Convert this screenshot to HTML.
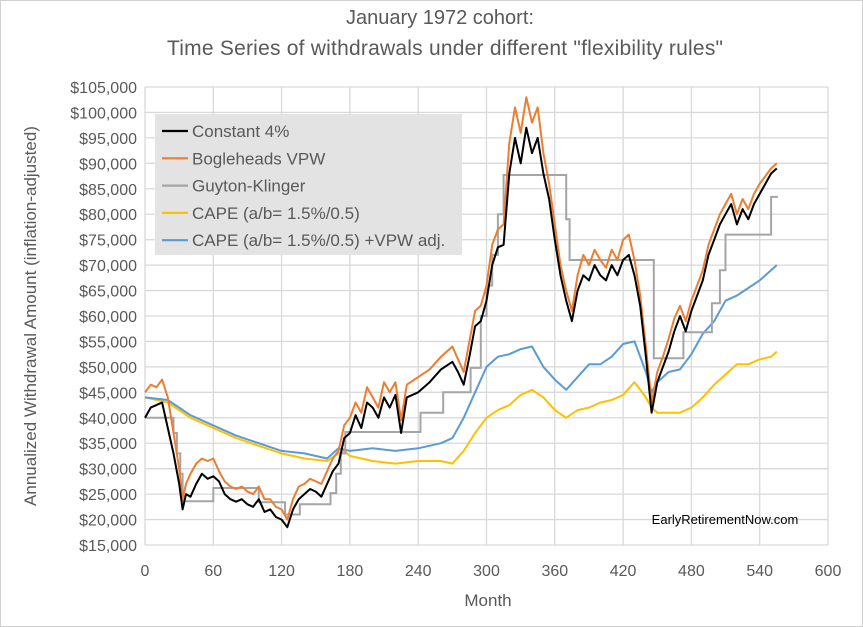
<!DOCTYPE html>
<html><head><meta charset="utf-8"><style>
body{margin:0;background:#fff;}
svg{display:block;font-family:"Liberation Sans",Arial,sans-serif;}
</style></head><body>
<svg id="chart" width="863" height="627" viewBox="0 0 863 627">
<rect x="0.5" y="0.5" width="862" height="626" fill="#fff" stroke="#d0d0d0"/>
<text x="440" y="24" text-anchor="middle" font-size="20" fill="#595959">January 1972 cohort:</text>
<text x="445" y="55" text-anchor="middle" font-size="21" fill="#595959" textLength="556">Time Series of withdrawals under different "flexibility rules"</text>
<g id="grid"></g>
<g id="yticks"></g>
<g id="xticks"></g>
<text transform="translate(36,316) rotate(-90)" text-anchor="middle" font-size="17" fill="#595959">Annualized Withdrawal Amount (inflation-adjusted)</text>
<text x="488" y="606" text-anchor="middle" font-size="17" fill="#595959">Month</text>
<g id="series"></g>
<g>
<rect x="155" y="114" width="307" height="141" fill="#e3e3e3"/>
<g id="legend-items"></g>
</g>
<text x="725" y="524" text-anchor="middle" font-size="13" fill="#000">EarlyRetirementNow.com</text>
</svg>
<script>
const xTicks=[0,60,120,180,240,300,360,420,480,540,600];
const yTicks=[15000,20000,25000,30000,35000,40000,45000,50000,55000,60000,65000,70000,75000,80000,85000,90000,95000,100000,105000];
const months=[0,5,10,15,20,25,30,33,36,40,45,50,55,60,65,70,75,80,85,90,95,100,105,110,115,120,125,130,135,140,145,150,155,160,165,170,175,180,185,190,195,200,205,210,215,220,225,230,240,250,260,270,275,280,285,290,295,300,305,310,315,320,325,330,335,340,345,350,355,360,365,370,375,380,385,390,395,400,405,410,415,420,425,430,435,440,445,450,455,460,465,470,475,480,485,490,495,500,505,510,515,520,525,530,535,540,545,550,555];
const constant4=[40000,42000,42500,43000,38000,33000,27000,22000,25000,24500,27000,29000,28000,28500,27500,25000,24000,23500,24000,23000,22500,24000,21500,22000,20500,20000,18500,22000,24000,25000,26000,25500,24500,27000,29500,31000,36000,37000,40500,38000,43000,42000,40000,44000,42000,44500,37000,44000,45000,47000,49500,51000,49000,46500,52000,58000,59000,63000,70000,73500,74000,88000,95000,90000,97000,92000,95000,88000,83000,75000,68000,63000,59000,65000,68000,67000,70000,68000,67000,70000,68000,71000,72000,68000,62000,52000,41000,47000,50000,53000,57000,60000,57000,61000,64000,67000,72000,75000,78000,80000,82000,78000,81000,79000,82000,84000,86000,88000,89000];
const vpw=[45000,46500,46000,47500,44000,37000,30000,24000,27000,29000,31000,32000,31500,32000,29500,27500,26500,26000,26500,25500,25000,26500,24000,24000,22500,22000,20000,24000,26500,27000,28000,27500,27000,29500,32000,33500,38500,40000,43000,41000,46000,44000,42000,47000,45000,47000,39500,46500,48000,49500,52000,54000,51500,49000,55000,61000,62000,66000,74000,77000,78000,94000,101000,96000,103000,98000,101000,92000,86000,78000,70000,65000,61000,68000,72000,70000,73000,71000,69500,73000,71000,75000,76000,71000,64000,54000,43000,49000,52000,55500,59500,62000,59000,63000,66000,69000,74000,77000,80000,82000,84000,80000,83000,81000,84000,86000,87500,89000,90000];
const gkMonths=[0,25,28,31,33,60,100,123,136,163,168,172,176,242,262,286,295,300,305,310,315,370,373,447,473,498,505,510,550,556];
const gkValues=[40000,37000,33000,29000,23600,26200,23400,21000,23000,25200,29000,33000,37200,41000,45000,49800,60000,66000,72000,80000,87700,79000,71000,51700,56800,62500,69000,76000,83400,83400];
const capeMonths=[0,20,40,60,80,100,120,140,160,170,175,180,200,220,240,260,270,280,290,300,310,320,330,340,350,360,370,380,390,400,410,420,430,440,445,450,460,470,480,490,500,510,520,530,540,550,555];
const cape=[44000,43000,40000,38000,36000,34500,33000,32000,31500,33000,33500,32500,31500,31000,31500,31500,31000,33500,37000,40000,41500,42500,44500,45500,44000,41500,40000,41500,42000,43000,43500,44500,47000,44000,42000,41000,41000,41000,42000,44000,46500,48500,50500,50500,51500,52000,53000];
const capeVpwMonths=[0,20,40,60,80,100,120,140,160,170,180,200,220,240,260,270,280,290,300,310,320,330,340,350,360,370,380,390,400,410,420,430,440,445,450,460,470,480,490,500,510,520,530,540,550,555];
const capeVpw=[44000,43500,40500,38500,36500,35000,33500,33000,32000,34000,33500,34000,33500,34000,35000,36000,40000,45000,50000,52000,52500,53500,54000,50000,47500,45500,48000,50500,50500,52000,54500,55000,49000,45000,47000,49000,49500,52500,56500,59000,63000,64000,65500,67000,69000,70000];

const X0=145,X1=828,Y0=545,Y1=87;
const xs=m=>X0+(m-0)/600*(X1-X0);
const ys=v=>Y0-(v-15000)/(105000-15000)*(Y0-Y1);
const NS="http://www.w3.org/2000/svg";
function mk(tag,attrs,parent){const e=document.createElementNS(NS,tag);for(const k in attrs)e.setAttribute(k,attrs[k]);parent.appendChild(e);return e;}
const grid=document.getElementById('grid'),yt=document.getElementById('yticks'),xt=document.getElementById('xticks'),ser=document.getElementById('series');
yTicks.forEach(v=>{
  const l=mk('line',{x1:X0,x2:X1,y1:ys(v),y2:ys(v),stroke:'#d9d9d9','stroke-width':1.3},grid);
  
  
  const t=mk('text',{x:137,y:ys(v)+6,'text-anchor':'end','font-size':16,fill:'#595959'},yt);
  t.textContent='$'+v.toLocaleString('en-US');
  
  
});
xTicks.forEach(m=>{
  const l=mk('line',{x1:xs(m),x2:xs(m),y1:Y1,y2:Y0,stroke:'#d9d9d9','stroke-width':1.3},grid);
  
  
  const t=mk('text',{x:xs(m),y:576,'text-anchor':'middle','font-size':16,fill:'#595959'},xt);
  t.textContent=m;
  
  
});
function line(ms,vs,color,name,w){
  const pts=ms.slice(0,vs.length).map((m,i)=>xs(m).toFixed(1)+','+ys(vs[i]).toFixed(1)).join(' ');
  const p=mk('polyline',{points:pts,fill:'none',stroke:color,'stroke-width':w||2,'stroke-linejoin':'round'},ser);
  
  
}
function step(ms,vs,color,name){
  let pts=[];
  for(let i=0;i<ms.length;i++){
    if(i>0)pts.push(xs(ms[i]).toFixed(1)+','+ys(vs[i-1]).toFixed(1));
    pts.push(xs(ms[i]).toFixed(1)+','+ys(vs[i]).toFixed(1));
  }
  const p=mk('polyline',{points:pts.join(' '),fill:'none',stroke:color,'stroke-width':2},ser);
  
  
}
line(capeMonths,cape,'#ffc000','series-cape');
line(capeVpwMonths,capeVpw,'#5b9bd5','series-cape-vpw');
step(gkMonths,gkValues,'#a5a5a5','series-guyton-klinger');
line(months,vpw,'#ed7d31','series-bogleheads-vpw');
line(months,constant4,'#000','series-constant-4pct');
const legNames=['Constant 4%','Bogleheads VPW','Guyton-Klinger','CAPE (a/b= 1.5%/0.5)','CAPE (a/b= 1.5%/0.5) +VPW adj.'];
const legColors=['#000','#ed7d31','#a5a5a5','#ffc000','#5b9bd5'];
const li=document.getElementById('legend-items');
legNames.forEach((n,i)=>{
  const y=131+i*27.3;
  const l=mk('line',{x1:162,x2:188,y1:y,y2:y,stroke:legColors[i],'stroke-width':2.2},li);
  
  
  const t=mk('text',{x:192,y:y+6,'font-size':17,fill:'#595959'},li);
  t.textContent=n;
  
  
});
</script>
</body></html>
